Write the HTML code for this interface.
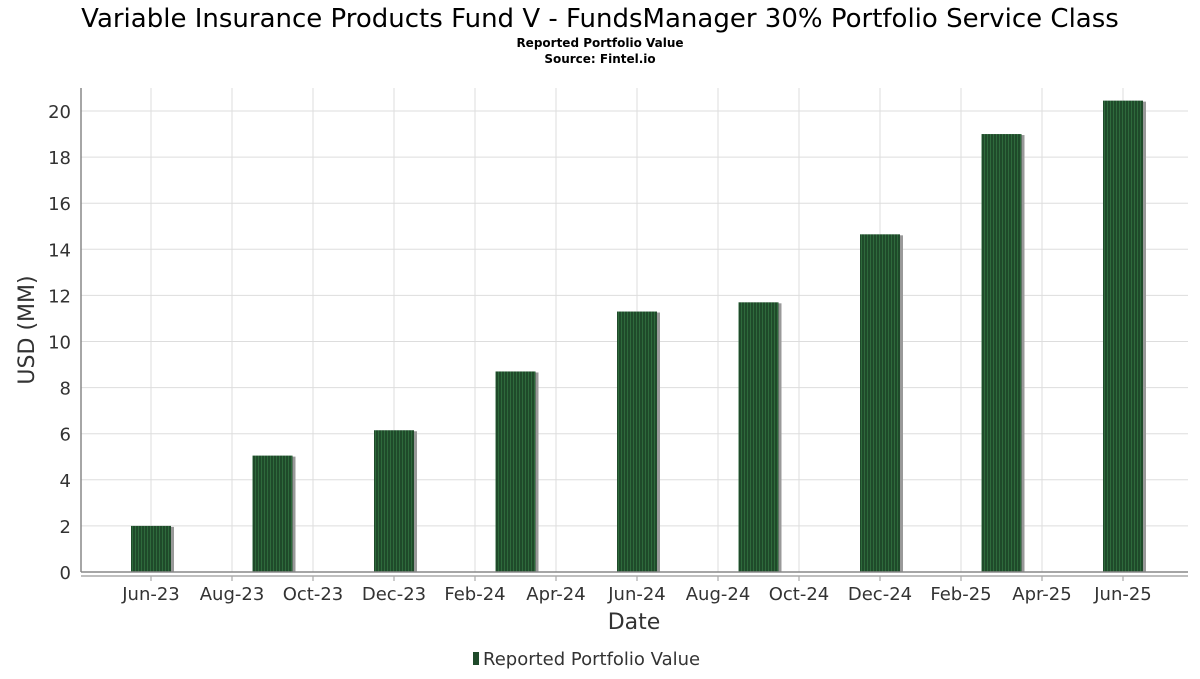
<!DOCTYPE html>
<html><head><meta charset="utf-8"><style>
body{margin:0;background:#fff;width:1200px;height:675px;overflow:hidden;font-family:"DejaVu Sans","Liberation Sans",sans-serif}
</style></head><body>
<svg id="chart" width="1200" height="675" xmlns="http://www.w3.org/2000/svg">
<defs><pattern id="stripes" width="3" height="10" patternUnits="userSpaceOnUse"><rect width="3" height="10" fill="#1f4a2a"/><rect width="1" height="10" fill="#2e6a3c"/></pattern></defs>
<text x="600" y="27" text-anchor="middle" font-size="26" fill="#000">Variable Insurance Products Fund V - FundsManager 30% Portfolio Service Class</text>
<text x="600" y="47" text-anchor="middle" font-size="12" font-weight="bold" fill="#000">Reported Portfolio Value</text>
<text x="600" y="63" text-anchor="middle" font-size="12" font-weight="bold" fill="#000">Source: Fintel.io</text>
<g id="grid"></g>
<g id="bars"></g>
<g id="axes"></g>
<text transform="translate(34,330) rotate(-90)" text-anchor="middle" font-size="22" fill="#333">USD (MM)</text>
<text x="634" y="629" text-anchor="middle" font-size="22" fill="#333">Date</text>
<g><rect x="473" y="652" width="6" height="13" fill="#1f4a2a"/><text x="483" y="665" font-size="18" fill="#333">Reported Portfolio Value</text></g>
</svg>
<script>
const categories=["2023-06","2023-09","2023-12","2024-03","2024-06","2024-09","2024-12","2025-03","2025-06"];
const values=[2.0,5.05,6.15,8.7,11.3,11.7,14.65,19.0,20.45];
const yTicks=[0,2,4,6,8,10,12,14,16,18,20];
const xTickLabels=["Jun-23","Aug-23","Oct-23","Dec-23","Feb-24","Apr-24","Jun-24","Aug-24","Oct-24","Dec-24","Feb-25","Apr-25","Jun-25"];
const NS="http://www.w3.org/2000/svg";
const L=81,R=1188,T=88,B=572;
const y=v=>B-v*23.05;
const monthIdx=s=>{const[a,b]=s.split("-").map(Number);return (a-2023)*12+(b-6);};
const x=m=>151+m*40.5;
function mk(tag,attrs,parent){const e=document.createElementNS(NS,tag);for(const k in attrs)e.setAttribute(k,attrs[k]);document.getElementById(parent).appendChild(e);return e;}
yTicks.forEach(t=>{
 const g=mk("line",{x1:L,x2:R,y1:y(t),y2:y(t),stroke:"#ddd","stroke-width":1},"grid");
 
 
 const tx=mk("text",{x:L-10,y:y(t)+7,"text-anchor":"end","font-size":18,fill:"#333"},"axes");
 tx.textContent=t;
 
 
});
xTickLabels.forEach((lab,i)=>{
 const xx=x(i*2);
 const g=mk("line",{x1:xx,x2:xx,y1:T,y2:B,stroke:"#ddd","stroke-width":1},"grid");
 
 
 const tk=mk("line",{x1:xx,x2:xx,y1:576,y2:581,stroke:"#999"},"axes");
 
 
 const tx=mk("text",{x:xx,y:600,"text-anchor":"middle","font-size":18,fill:"#333"},"axes");
 tx.textContent=lab;
 
 
});
categories.forEach((c,i)=>{
 const cx=x(monthIdx(c)),top=y(values[i]);
 const s=mk("rect",{x:cx-20+3,y:top+1,width:40,height:B-top-1,fill:"#999"},"bars");
 
 
 const b=mk("rect",{x:cx-20,y:top,width:40,height:B-top,fill:"url(#stripes)"},"bars");
 
 
});
const a1=mk("line",{x1:L,x2:L,y1:T,y2:B,stroke:"#888","stroke-width":1.5},"axes");


const a2=mk("line",{x1:L,x2:R,y1:B,y2:B,stroke:"#888","stroke-width":1.5},"axes");


const a3=mk("line",{x1:L,x2:R,y1:576,y2:576,stroke:"#aaa","stroke-width":1.5},"axes");


</script>
</body></html>
